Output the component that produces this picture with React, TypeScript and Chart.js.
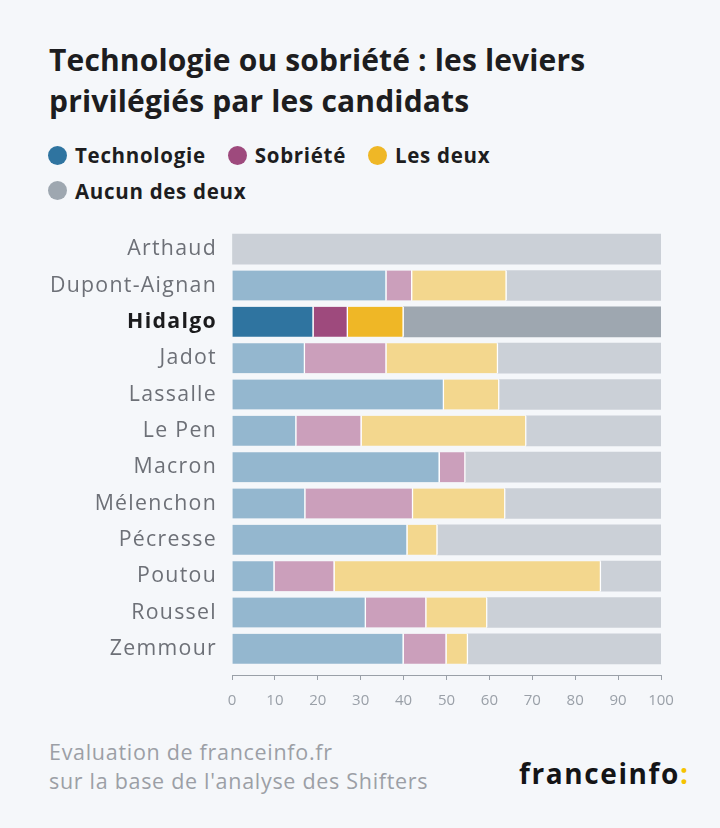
import React, { useEffect, useRef } from "react";
import { Chart, registerables } from "chart.js";

Chart.register(...registerables);

const candidates = ["Arthaud", "Dupont-Aignan", "Hidalgo", "Jadot", "Lassalle", "Le Pen", "Macron", "Mélenchon", "Pécresse", "Poutou", "Roussel", "Zemmour"];
const technologie = [0, 36, 19, 17, 49.4, 15, 48.4, 17.1, 40.9, 9.9, 31.2, 40];
const sobriete = [0, 6, 8, 19, 0, 15.2, 6, 25.1, 0, 14, 14.1, 10];
const lesDeux = [0, 22, 13, 26, 12.9, 38.4, 0, 21.5, 7, 62.1, 14.2, 5];
const aucun = [100, 36, 60, 38, 37.7, 31.4, 45.6, 36.3, 52.1, 14, 40.5, 45];
const xTicks = [0, 10, 20, 30, 40, 50, 60, 70, 80, 90, 100];
const highlighted = "Hidalgo";

const seriesNames = ["Technologie", "Sobriété", "Les deux", "Aucun des deux"];
const strongColors = ["#2f74a0", "#9e4a7d", "#efb726", "#9ea7b0"];
const fadedColors = ["#94b7cf", "#cb9fbb", "#f3d78e", "#cbd0d7"];

const FONT = "'Open Sans', sans-serif";
const BG = "#f5f7fa";

export default function App() {
  const ref = useRef<HTMLCanvasElement | null>(null);

  useEffect(() => {
    if (!ref.current) return;
    const hi = candidates.indexOf(highlighted);
    const series = [technologie, sobriete, lesDeux, aucun];
    const chart = new Chart(ref.current, {
      type: "bar",
      data: {
        datasets: series.map((vals, s) => ({
          label: seriesNames[s],
          data: vals.map((v, i) => ({ x: v === 0 ? null : v, y: i })),
          backgroundColor: (ctx: any) => (ctx.dataIndex === hi ? strongColors[s] : fadedColors[s]),
          borderColor: "#ffffff",
          borderWidth: s === 3 ? 0 : { top: 0, bottom: 0, left: 0, right: 1.5 },
          borderSkipped: false,
          barThickness: 30,
        })),
      },
      options: {
        indexAxis: "y",
        responsive: false,
        animation: false,
        devicePixelRatio: 1,
        layout: { padding: { top: 11, right: 59, left: 0, bottom: 0 } },
        plugins: { legend: { display: false }, tooltip: { enabled: false } },
        scales: {
          x: {
            type: "linear",
            stacked: true,
            min: 0,
            max: 100,
            afterBuildTicks: (scale: any) => {
              scale.ticks = xTicks.map((v) => ({ value: v }));
            },
            afterFit: (scale: any) => {
              scale.height = 45;
              scale.paddingLeft = 0;
              scale.paddingRight = 0;
            },
            ticks: {
              color: "#9aa0a8",
              font: { family: FONT, size: 15 },
              padding: 12,
              maxRotation: 0,
            },
            grid: {
              display: true,
              drawOnChartArea: false,
              drawTicks: true,
              tickLength: 5,
              color: "#9aa0a8",
            },
            border: { display: true, color: "#9aa0a8", width: 1 },
          },
          y: {
            type: "linear",
            stacked: true,
            reverse: true,
            offset: false,
            min: -0.5,
            max: 11.72,
            afterBuildTicks: (scale: any) => {
              scale.ticks = candidates.map((_, i) => ({ value: i }));
            },
            afterFit: (scale: any) => {
              scale.width = 232;
              scale.paddingTop = 0;
              scale.paddingBottom = 0;
            },
            afterUpdate: (scale: any) => {
              if (scale._lsPatched) return;
              scale._lsPatched = true;
              const orig = scale.drawLabels.bind(scale);
              scale.drawLabels = (area: any) => {
                const c = scale.ctx;
                c.save();
                c.letterSpacing = "1.3px";
                orig(area);
                c.restore();
              };
            },
            ticks: {
              callback: (v: any) => candidates[v] ?? "",
              color: (ctx: any) => (ctx.tick && ctx.tick.value === hi ? "#1b1b1d" : "#6d7077"),
              font: (ctx: any) => ({
                family: FONT,
                size: 21.3,
                weight: ctx.tick && ctx.tick.value === hi ? "bold" : "normal",
              }),
              padding: 15,
            },
            grid: { display: false, drawTicks: false },
            border: { display: false },
          },
        },
      },
    } as any);
    return () => chart.destroy();
  }, []);

  const legendItem = (i: number) => (
    <span key={i} style={{ display: "inline-flex", alignItems: "center", marginRight: 22 }}>
      <span
        style={{
          display: "inline-block",
          width: 19,
          height: 19,
          borderRadius: 10,
          background: strongColors[i],
          marginRight: 8,
        }}
      />
      <span>{seriesNames[i]}</span>
    </span>
  );

  return (
    <div
      style={{
        position: "fixed",
        left: 0,
        top: 0,
        width: 720,
        height: 828,
        background: BG,
        fontFamily: FONT,
        overflow: "hidden",
      }}
    >
      <div
        style={{
          position: "absolute",
          left: 49,
          top: 39,
          fontSize: 30,
          fontWeight: 700,
          letterSpacing: 0.15,
          lineHeight: "41px",
          color: "#1d1d20",
          whiteSpace: "nowrap",
        }}
      >
        Technologie ou sobriété : les leviers
        <br />
        privilégiés par les candidats
      </div>
      <div
        style={{
          position: "absolute",
          left: 48,
          top: 138,
          width: 660,
          fontSize: 20.5,
          fontWeight: 700,
          letterSpacing: 0.7,
          color: "#1d1d20",
          lineHeight: "34px",
          whiteSpace: "nowrap",
        }}
      >
        <div>{[0, 1, 2].map(legendItem)}</div>
        <div>{legendItem(3)}</div>
      </div>
      <canvas
        ref={ref}
        width={720}
        height={500}
        style={{ position: "absolute", left: 0, top: 220, width: 720, height: 500 }}
      />
      <div
        style={{
          position: "absolute",
          left: 49,
          top: 737,
          fontSize: 21.5,
          letterSpacing: 0.7,
          lineHeight: "29px",
          color: "#9c9fa6",
          whiteSpace: "nowrap",
        }}
      >
        Evaluation de franceinfo.fr
        <br />
        sur la base de l'analyse des Shifters
      </div>
      <div
        style={{
          position: "absolute",
          left: 519,
          top: 753,
          fontSize: 28,
          fontWeight: 700,
          lineHeight: "40px",
          color: "#141416",
          letterSpacing: 1.6,
          whiteSpace: "nowrap",
        }}
      >
        franceinfo<span style={{ color: "#f5c300" }}>:</span>
      </div>
    </div>
  );
}
